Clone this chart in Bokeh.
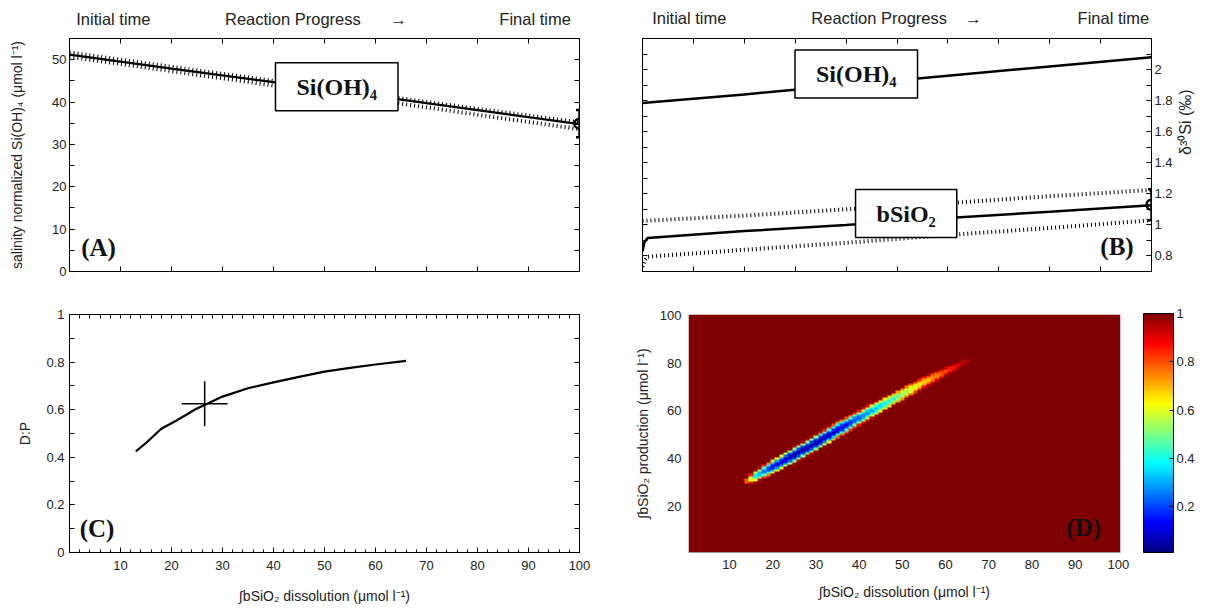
import math
import numpy as np
from bokeh.plotting import figure
from bokeh.layouts import column, row
from bokeh.models import (LinearAxis, FixedTicker, Label, ColorBar, LinearColorMapper,
                          NumeralTickFormatter, Range1d)
from bokeh.embed import file_html
from bokeh.resources import INLINE

# ---------------- data ----------------
progress = [0, 20, 40, 60, 80, 100]
a_sioh4_model = [51.2, 47.9, 44.7, 41.4, 38.1, 34.8]
a_sioh4_upper = [51.7, 48.3, 45.0, 41.7, 38.4, 35.2]
a_sioh4_lower = [50.7, 47.3, 43.9, 40.5, 37.0, 33.6]
a_obs_x = [100]
a_obs_y = [34.9]
a_obs_err = [3.2]

b_sioh4_model = [1.785, 1.84, 1.90, 1.96, 2.02, 2.08]
b_bsio2_x = [0, 0.4, 1, 20, 40, 60, 80, 100]
b_bsio2_model = [0.83, 0.89, 0.915, 0.96, 1.00, 1.045, 1.085, 1.127]
b_bsio2_upper = [1.025, 1.025, 1.027, 1.06, 1.10, 1.14, 1.185, 1.225]
b_bsio2_lower = [0.73, 0.77, 0.795, 0.84, 0.885, 0.935, 0.98, 1.03]
b_obs_x = [100]
b_obs_y = [1.13]
b_obs_err = [0.1]

c_dissolution = [13, 15, 18, 21, 23, 24.5, 27, 30, 35, 40, 45, 50, 55, 60, 66]
c_dp = [0.425, 0.46, 0.52, 0.555, 0.58, 0.60, 0.625, 0.655, 0.69, 0.715, 0.738, 0.76, 0.776, 0.79, 0.805]
c_best_x = [26.5]
c_best_xerr = [4.5]
c_best_y = [0.625]
c_best_yerr = [0.095]

# panel D: misfit ridge (centre line, minimum value, vertical half width)
d_ridge_x = [14, 16, 20, 25, 30, 35, 40, 45, 50, 55, 60, 65]
d_ridge_y = [30.5, 32.5, 36.5, 41.5, 46.5, 52, 57, 62, 67, 72, 76.5, 81]
d_ridge_min = [0.75, 0.35, 0.12, 0.04, 0.04, 0.08, 0.22, 0.35, 0.5, 0.66, 0.8, 0.95]
d_ridge_hw = [1.3, 2.4, 3.2, 3.6, 3.6, 3.5, 3.3, 3.1, 2.9, 2.5, 1.9, 1.1]

a_y_ticks = [0, 10, 20, 30, 40, 50]
a_y_minor = [0, 5, 10, 15, 20, 25, 30, 35, 40, 45, 50, 55]
b_y_ticks = [0.8, 1, 1.2, 1.4, 1.6, 1.8, 2]
b_y_minor = [0.7, 0.8, 0.9, 1, 1.1, 1.2, 1.3, 1.4, 1.5, 1.6, 1.7, 1.8, 1.9, 2, 2.1, 2.2]
prog_ticks = [0, 10, 20, 30, 40, 50, 60, 70, 80, 90, 100]
c_x_ticks = [10, 20, 30, 40, 50, 60, 70, 80, 90, 100]
c_x_minor = list(range(0, 101, 2))
c_y_ticks = [0, 0.2, 0.4, 0.6, 0.8, 1]
c_y_minor = [0, 0.1, 0.2, 0.3, 0.4, 0.5, 0.6, 0.7, 0.8, 0.9, 1]
d_x_ticks = [10, 20, 30, 40, 50, 60, 70, 80, 90, 100]
d_y_ticks = [20, 40, 60, 80, 100]
cb_ticks = [0.2, 0.4, 0.6, 0.8, 1]
top_texts = ["Initial time", "Reaction Progress", "\u2192", "Final time"]
a_top_pos = [8.6, 43.8, 64.5, 91.3]
b_top_pos = [9.2, 46.5, 65.0, 92.5]

SANS = "Liberation Sans"
SERIF = "Liberation Serif"
TXT = "#222222"


def make_fig(w, h, xr, yr, bl, br, bt, bb):
    p = figure(width=w, height=h, x_range=Range1d(*xr), y_range=Range1d(*yr),
               output_backend="svg", toolbar_location=None,
               x_axis_location=None, y_axis_location=None,
               min_border_left=bl, min_border_right=br,
               min_border_top=bt, min_border_bottom=bb)
    p.grid.visible = False
    p.outline_line_color = "black"
    p.outline_line_width = 1
    p.background_fill_color = "white"
    p.border_fill_color = "white"
    return p


def base_axis(ticks, minor):
    ax = LinearAxis(ticker=FixedTicker(ticks=ticks, minor_ticks=minor),
                    formatter=NumeralTickFormatter(format="0.[0]"))
    ax.axis_line_color = "black"
    ax.major_tick_line_color = "black"
    ax.minor_tick_line_color = "black"
    ax.major_tick_out = 0
    ax.minor_tick_out = 0
    ax.major_label_text_font = SANS
    ax.major_label_text_color = TXT
    ax.major_label_text_font_size = "13px"
    return ax


def add_axis(p, side, ticks, minor=None, title=None, standoff=5,
             title_standoff=10, tick_len=5, minor_len=5, title_size="14px"):
    ax = base_axis(ticks, minor or [])
    ax.major_tick_in = tick_len
    ax.minor_tick_in = minor_len
    ax.major_label_standoff = standoff
    if title:
        ax.axis_label = title
        ax.axis_label_text_font = SANS
        ax.axis_label_text_font_style = "normal"
        ax.axis_label_text_font_size = title_size
        ax.axis_label_text_color = TXT
        ax.axis_label_standoff = title_standoff
    p.add_layout(ax, side)
    return ax


def add_mirror(p, side, ticks, tick_len=5):
    # tick marks only (no labels): drawn as minor ticks of an axis with no major ticks
    ax = base_axis([], ticks)
    ax.minor_tick_in = tick_len
    ax.major_label_standoff = 0
    p.add_layout(ax, side)
    return ax


def add_top_text(p, positions, texts, ticks, standoff):
    ax = base_axis(positions, ticks)
    ax.major_tick_in = 0
    ax.minor_tick_in = 5
    ax.major_label_standoff = standoff
    ax.major_label_text_font_size = "16.5px"
    ax.major_label_overrides = {pos: t for pos, t in zip(positions, texts)}
    p.add_layout(ax, "above")
    return ax


def add_text(p, x, y, text, align="left", size="25px", box=False, hpad=21, vpad=11):
    lab = Label(x=x, y=y, text=text, text_align=align, text_baseline="middle",
                text_font=SERIF, text_font_size=size, text_color="#111111",
                text_font_style="bold")
    if box:
        lab.background_fill_color = "white"
        lab.border_line_color = "black"
        lab.border_line_width = 1.5
        lab.padding = (hpad, hpad, vpad, vpad)
    p.add_layout(lab)
    return lab


def dotted(p, x, y):
    p.line(x, y, line_color="black", line_width=4, line_dash="1 3", line_cap="butt")


def obs_point(p, x, y, err, cap):
    lo = [yy - e for yy, e in zip(y, err)]
    hi = [yy + e for yy, e in zip(y, err)]
    p.segment(x0=x, y0=lo, x1=x, y1=hi, line_color="black", line_width=2.5)
    p.scatter(x, hi, marker="dash", size=cap, line_color="black", line_width=2.5)
    p.scatter(x, lo, marker="dash", size=cap, line_color="black", line_width=2.5)
    p.scatter(x, y, marker="circle", size=10, fill_color=None, line_color="black", line_width=2.5)


# ---------------- panel A ----------------
pA = make_fig(607, 291, (0, 100), (0, 55), 69, 28, 38, 20)
add_axis(pA, "left", a_y_ticks, a_y_minor,
         "salinity normalized Si(OH)\u2084 (\u03bcmol l\u207b\u00b9)", standoff=3, title_standoff=24)
add_mirror(pA, "right", a_y_minor)
add_mirror(pA, "below", prog_ticks)
add_top_text(pA, a_top_pos, top_texts, prog_ticks, 11)
dotted(pA, progress, a_sioh4_upper)
dotted(pA, progress, a_sioh4_lower)
pA.line(progress, a_sioh4_model, line_color="black", line_width=2.2)
obs_point(pA, a_obs_x, a_obs_y, a_obs_err, 7)
add_text(pA, 52.4, 43.6, "Si(OH)\u2084", align="center", size="24px", box=True)
add_text(pA, 2.3, 5.6, "(A)")

# ---------------- panel B ----------------
pB = make_fig(601, 291, (0, 100), (0.7, 2.2), 35, 57, 38, 20)
axB = add_axis(pB, "right", b_y_ticks, b_y_minor, "\u03b4\u00b3\u2070Si (\u2030)",
               standoff=3, title_standoff=10, title_size="16px")
axB.axis_label_orientation = math.pi / 2
add_mirror(pB, "left", b_y_minor)
add_mirror(pB, "below", prog_ticks)
add_top_text(pB, b_top_pos, top_texts, prog_ticks, 12)
pB.line(progress, b_sioh4_model, line_color="black", line_width=2.5)
dotted(pB, b_bsio2_x, b_bsio2_upper)
dotted(pB, b_bsio2_x, b_bsio2_lower)
pB.line(b_bsio2_x, b_bsio2_model, line_color="black", line_width=2.5)
obs_point(pB, b_obs_x, b_obs_y, b_obs_err, 7)
add_text(pB, 42, 1.972, "Si(OH)\u2084", align="center", size="24px", box=True)
add_text(pB, 51.8, 1.073, "bSiO\u2082", align="center", size="24px", box=True)
add_text(pB, 96.5, 0.862, "(B)", align="right")

# ---------------- panel C ----------------
pC = make_fig(607, 320, (0, 100), (0, 1), 69, 28, 23, 59)
add_axis(pC, "left", c_y_ticks, c_y_minor, "D:P", title_standoff=10)
add_mirror(pC, "right", c_y_minor)
add_axis(pC, "below", c_x_ticks, c_x_minor,
         "\u222bbSiO\u2082 dissolution (\u03bcmol l\u207b\u00b9)", standoff=8, title_standoff=15,
         minor_len=3)
add_mirror(pC, "above", c_x_minor, tick_len=4)
pC.line(c_dissolution, c_dp, line_color="black", line_width=2.2)
cx0 = [x - e for x, e in zip(c_best_x, c_best_xerr)]
cx1 = [x + e for x, e in zip(c_best_x, c_best_xerr)]
cy0 = [y - e for y, e in zip(c_best_y, c_best_yerr)]
cy1 = [y + e for y, e in zip(c_best_y, c_best_yerr)]
pC.segment(x0=cx0, y0=c_best_y, x1=cx1, y1=c_best_y, line_color="black", line_width=1.5)
pC.segment(x0=c_best_x, y0=cy0, x1=c_best_x, y1=cy1, line_color="black", line_width=1.5)
add_text(pC, 2, 0.1, "(C)")

# ---------------- panel D ----------------
def jet(n=256):
    cols = []
    for i in range(n):
        t = i / (n - 1)
        r = min(max(1.5 - abs(4 * t - 3), 0), 1)
        g = min(max(1.5 - abs(4 * t - 2), 0), 1)
        b = min(max(1.5 - abs(4 * t - 1), 0), 1)
        cols.append("#%02x%02x%02x" % (int(r * 255), int(g * 255), int(b * 255)))
    return cols

xs = np.arange(1, 101)
ys = np.arange(1, 101)
yc = np.interp(xs, d_ridge_x, d_ridge_y)
vmin = np.interp(xs, d_ridge_x, d_ridge_min)
hw = np.interp(xs, d_ridge_x, d_ridge_hw)
inside = (xs >= d_ridge_x[0]) & (xs <= d_ridge_x[-1])
dist = (ys[:, None] - yc[None, :]) / hw[None, :]
prof = np.clip(1 - dist ** 2, 0, 1)
grid = 1 - (1 - vmin[None, :]) * prof
grid[:, ~inside] = 1.0

mapper = LinearColorMapper(palette=jet(), low=0.01, high=1)
pD = make_fig(601, 320, (0.5, 100.5), (0.5, 100.5), 81, 88, 22, 59)
pD.outline_line_color = None
axDx = add_axis(pD, "below", d_x_ticks, None,
                "\u222bbSiO\u2082 dissolution (\u03bcmol l\u207b\u00b9)", standoff=7,
                title_standoff=12, tick_len=0, minor_len=0)
axDy = add_axis(pD, "left", d_y_ticks, None,
                "\u222bbSiO\u2082 production (\u03bcmol l\u207b\u00b9)", standoff=7,
                title_standoff=6, tick_len=0, minor_len=0)
axDx.axis_line_color = "#999999"
axDy.axis_line_color = None
pD.image(image=[grid], x=0.5, y=0.5, dw=100, dh=100, color_mapper=mapper)
add_text(pD, 96, 11, "(D)", align="right")

cb = ColorBar(color_mapper=mapper, ticker=FixedTicker(ticks=cb_ticks),
              formatter=NumeralTickFormatter(format="0.[0]"),
              width=30, height=239, padding=0, margin=0, location=(23, 0),
              bar_line_color="black", major_tick_line_color="black",
              major_tick_in=4, major_tick_out=0, label_standoff=3,
              major_label_text_font=SANS, major_label_text_font_size="13px",
              major_label_text_color=TXT)
pD.add_layout(cb, "right")

layout = column(row(pA, pB), row(pC, pD))
layout.spacing = 0
open("out.html", "w").write(file_html(layout, INLINE))
